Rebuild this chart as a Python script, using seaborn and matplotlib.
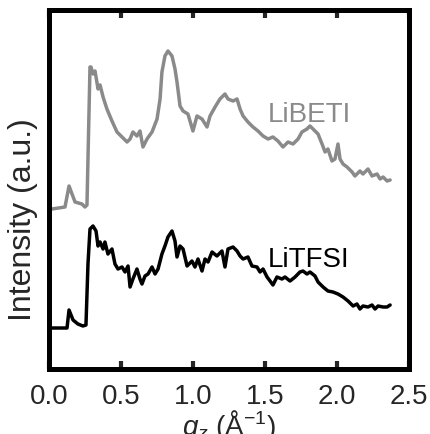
import matplotlib
matplotlib.use("Agg")
import matplotlib.pyplot as plt
import seaborn as sns
import pandas as pd

# ---- data (intensity in arbitrary units) ----
q_libeti = [0.017, 0.108, 0.136, 0.178, 0.226, 0.247, 0.261, 0.282, 0.289, 0.303,
            0.317, 0.338, 0.352, 0.373, 0.400, 0.435, 0.470, 0.505, 0.540, 0.561,
            0.581, 0.609, 0.630, 0.651, 0.679, 0.714, 0.749, 0.770, 0.783, 0.804,
            0.825, 0.853, 0.874, 0.888, 0.909, 0.930, 0.964, 0.999, 1.027, 1.062,
            1.097, 1.118, 1.153, 1.187, 1.222, 1.243, 1.278, 1.306, 1.327, 1.348,
            1.382, 1.417, 1.452, 1.487, 1.522, 1.556, 1.591, 1.626, 1.661, 1.696,
            1.731, 1.758, 1.793, 1.814, 1.849, 1.870, 1.898, 1.919, 1.939, 1.967,
            1.988, 2.009, 2.023, 2.044, 2.072, 2.107, 2.127, 2.162, 2.183, 2.218,
            2.246, 2.281, 2.302, 2.323, 2.351, 2.372]
i_libeti = [161, 163, 184, 168, 166, 163, 165, 303, 303, 296,
            299, 281, 285, 273, 261, 249, 238, 233, 228, 231,
            238, 234, 239, 223, 231, 238, 251, 271, 298, 314,
            319, 314, 301, 288, 264, 259, 256, 239, 254, 251,
            243, 254, 263, 271, 276, 271, 269, 271, 261, 254,
            248, 243, 239, 234, 231, 233, 229, 223, 228, 226,
            231, 238, 241, 244, 239, 236, 226, 218, 221, 209,
            211, 226, 211, 206, 203, 198, 194, 199, 196, 201,
            194, 196, 191, 193, 189, 190]

q_litfsi = [0.003, 0.122, 0.136, 0.164, 0.198, 0.233, 0.254, 0.268, 0.282, 0.303,
            0.324, 0.338, 0.352, 0.373, 0.386, 0.407, 0.435, 0.456, 0.477, 0.505,
            0.526, 0.547, 0.561, 0.581, 0.609, 0.630, 0.644, 0.665, 0.686, 0.714,
            0.735, 0.756, 0.783, 0.804, 0.825, 0.853, 0.874, 0.888, 0.909, 0.930,
            0.958, 0.992, 1.013, 1.034, 1.062, 1.083, 1.104, 1.132, 1.166, 1.201,
            1.222, 1.243, 1.278, 1.306, 1.327, 1.348, 1.382, 1.410, 1.445, 1.466,
            1.487, 1.515, 1.536, 1.556, 1.584, 1.619, 1.640, 1.675, 1.710, 1.744,
            1.765, 1.793, 1.814, 1.849, 1.870, 1.905, 1.939, 1.974, 2.009, 2.044,
            2.079, 2.114, 2.141, 2.162, 2.183, 2.218, 2.246, 2.267, 2.288, 2.323,
            2.351, 2.372]
i_litfsi = [42, 42, 60, 50, 46, 44, 45, 106, 141, 144,
            139, 124, 128, 121, 128, 116, 121, 106, 101, 103,
            98, 104, 83, 91, 101, 91, 86, 94, 96, 103,
            96, 101, 116, 124, 133, 139, 129, 113, 124, 121,
            104, 109, 103, 111, 99, 111, 108, 118, 114, 119,
            103, 121, 123, 119, 114, 111, 113, 104, 103, 98,
            101, 93, 89, 85, 93, 91, 93, 89, 93, 98,
            99, 96, 98, 94, 88, 83, 79, 78, 76, 73,
            69, 64, 66, 61, 64, 63, 65, 61, 64, 63,
            63, 65]

x_ticks = [0.0, 0.5, 1.0, 1.5, 2.0, 2.5]
x_ticklabels = ["0.0", "0.5", "1.0", "1.5", "2.0", "2.5"]
labels = ["LiBETI", "LiTFSI"]
colors = ["#8a8a8a", "#000000"]

df = pd.concat([
    pd.DataFrame({"q": q_libeti, "I": i_libeti, "sample": labels[0]}),
    pd.DataFrame({"q": q_litfsi, "I": i_litfsi, "sample": labels[1]}),
], ignore_index=True)

sns.set_style("ticks")
plt.rcParams["font.family"] = ["Liberation Sans", "DejaVu Sans"]
plt.rcParams["mathtext.fontset"] = "custom"
plt.rcParams["mathtext.rm"] = "Liberation Sans"
plt.rcParams["mathtext.it"] = "Liberation Sans:italic"

fig = plt.figure(figsize=(4.30, 4.35), dpi=100)
ax = fig.add_axes([0.1151, 0.1494, 0.8349, 0.8242])

sns.lineplot(data=df, x="q", y="I", hue="sample", palette=colors,
             hue_order=labels, estimator=None, sort=False, linewidth=2.5,
             legend=False, ax=ax)

ax.set_xlim(0, 2.5)
ax.set_ylim(1, 359.5)
ax.set_xticks(x_ticks)
ax.set_xticklabels(x_ticklabels)
ax.set_yticks([])
ax.tick_params(axis="x", direction="in", top=True, bottom=True, length=6,
               width=3, labelsize=20, pad=10)
for s in ax.spines.values():
    s.set_visible(True)
    s.set_linewidth(3.6)
    s.set_color("black")

ax.set_xlabel(r"$q_z$ (Å$^{-1}$)", fontsize=20, labelpad=0)
ax.set_ylabel("Intensity (a.u.)", fontsize=23)
ax.yaxis.set_label_coords(-0.032, 0.42)
ax.xaxis.set_label_coords(0.5, -0.105)

ax.text(1.52, 249, labels[0], color=colors[0], fontsize=20, ha="left", va="baseline")
ax.text(1.52, 104, labels[1], color=colors[1], fontsize=20, ha="left", va="baseline")

fig.savefig("out.png", dpi=100)
